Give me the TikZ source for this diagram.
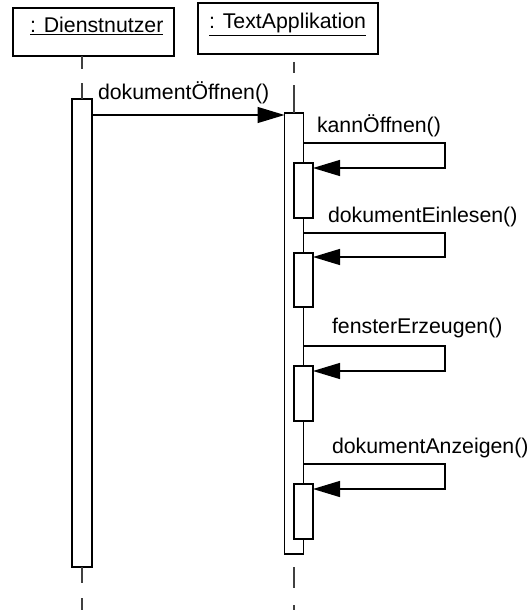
\documentclass[tikz,border=0pt]{standalone}
\usepackage{fontspec}
\setmainfont{Liberation Sans}
\usetikzlibrary{arrows.meta}
\begin{document}
\begin{tikzpicture}[x=1pt,y=-1pt,
  every node/.style={inner sep=0pt,outer sep=0pt,font=\fontsize{21.3}{25}\selectfont},
  objbox/.style={draw,line width=1.1pt,rectangle},
  actbox/.style={draw,line width=1.1pt,fill=white,rectangle,minimum width=19pt},
  life/.style={draw=black!75,line width=1.1pt},
  msg/.style={line width=1.3pt,-{Triangle[length=27pt,width=16pt]}},
  lbl/.style={anchor=base west}]
\useasboundingbox (0,0) rectangle (528,610);
% objects
\node[objbox,minimum width=161pt,minimum height=48pt] (dbox) at (93.5,32) {};
\node[objbox,minimum width=180pt,minimum height=51pt] (tbox) at (288,28.5) {};
\node[lbl] (dlbl) at (30,33) {\underline{: Dienstnutzer}};
\node[lbl] (tlbl) at (209,29) {\underline{: TextApplikation}};
% activations
\node[actbox,minimum width=20pt,minimum height=468pt] (da) at (82,333) {};
\node[actbox,minimum height=441pt] (ta) at (294,333.5) {};
\node[actbox,minimum height=55pt] (a1) at (303.5,190.5) {};
\node[actbox,minimum height=54pt] (a2) at (303.5,280) {};
\node[actbox,minimum height=55pt] (a3) at (303.5,393.5) {};
\node[actbox,minimum height=55pt] (a4) at (303.5,511.5) {};
\coordinate (dend) at (82,610);
\coordinate (tend) at (294,610);
% lifelines
\draw[life,dash pattern=on 13pt off 14pt on 30pt] (dbox.south-|da.north) -- (da.north);
\draw[life,dash pattern=on 16pt off 15pt on 30pt] (da.south) -- (dend);
\draw[life,dash pattern=on 0pt off 8pt on 11pt off 12pt on 30pt] (tbox.south-|ta.north) -- (ta.north);
\draw[life,dash pattern=on 0pt off 13pt on 21pt off 17pt on 20pt] (ta.south) -- (tend);
% messages
\draw[msg] (da.east|-0,115) -- (ta.west|-0,115);
\node[lbl] (m0) at (98,99) {dokumentÖffnen()};
\draw[msg] (ta.east|-0,143) -- (445,143) -- (445,168) -- (a1.east|-0,168);
\node[lbl] (m1) at (317,132) {kannÖffnen()};
\draw[msg] (ta.east|-0,233) -- (445,233) -- (445,257) -- (a2.east|-0,257);
\node[lbl] (m2) at (328,222) {dokumentEinlesen()};
\draw[msg] (ta.east|-0,346) -- (445,346) -- (445,371) -- (a3.east|-0,371);
\node[lbl] (m3) at (332,333) {fensterErzeugen()};
\draw[msg] (ta.east|-0,464) -- (445,464) -- (445,489) -- (a4.east|-0,489);
\node[lbl] (m4) at (332,453) {dokumentAnzeigen()};
\end{tikzpicture}
\end{document}
